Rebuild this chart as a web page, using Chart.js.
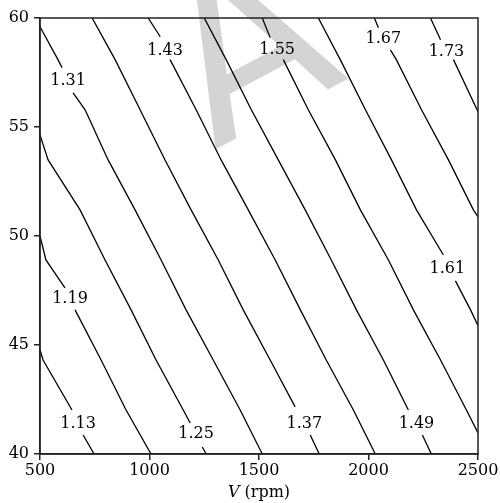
<!DOCTYPE html>
<html>
<head>
<meta charset="utf-8">
<script src="https://cdn.jsdelivr.net/npm/chart.js@4.4.1/dist/chart.umd.min.js"></script>
<style>
  html, body { margin: 0; padding: 0; background: #fff; }
  #wrap { width: 500px; height: 503px; }
</style>
</head>
<body>
<div id="wrap"><canvas id="contour"></canvas></div>
<script>
// 等高線のレベル
const levels = [1.13, 1.19, 1.25, 1.31, 1.37, 1.43, 1.49, 1.55, 1.61, 1.67, 1.73];

// 各等高線の点 [V, y]  (null = ラベルのすき間)
const line113 = [[500, 44.78], [514, 44.31], [646, 42.02], null, [697, 40.87], [747, 40]];
const line119 = [[500, 50.0], [527, 48.9], [614, 47.62], null, [660, 46.61], [779, 44.31], [893, 42.02], [1007, 40]];
const line125 = [[500, 54.64], [537, 53.49], [683, 51.2], [797, 48.9], [916, 46.61], [1030, 44.31], [1154, 42.02], [1186, 41.42], null, [1241, 40.32], [1259, 40]];
const line131 = [[500, 59.6], [582, 58.09], [601, 57.72], null, [651, 56.57], [706, 55.79], [811, 53.49], [934, 51.2], [1053, 48.9], [1167, 46.61], [1291, 44.31], [1414, 42.02], [1515, 40]];
const line137 = [[738, 60], [843, 58.09], [957, 55.79], [1071, 53.49], [1190, 51.2], [1314, 48.9], [1428, 46.61], [1551, 44.31], [1665, 42.16], null, [1734, 40.87], [1775, 40]];
const line143 = [[994, 60], [1049, 59.14], null, [1094, 58.09], [1213, 55.79], [1327, 53.49], [1451, 51.2], [1574, 48.9], [1689, 46.61], [1807, 44.31], [1931, 42.02], [2031, 40]];
const line149 = [[1250, 60], [1350, 58.09], [1465, 55.79], [1588, 53.49], [1711, 51.2], [1830, 48.9], [1945, 46.61], [2068, 44.31], [2182, 42.02], null, [2246, 40.87], [2287, 40]];
const line155 = [[1515, 60], [1551, 59.1], null, [1611, 58.09], [1725, 55.79], [1849, 53.49], [1963, 51.2], [2091, 48.9], [2205, 46.61], [2329, 44.31], [2447, 42.02], [2500, 40.96]];
const line161 = [[1771, 60], [1871, 58.09], [1986, 55.79], [2105, 53.49], [2219, 51.2], [2342, 49.13], null, [2397, 47.94], [2466, 46.61], [2500, 45.88]];
const line167 = [[2027, 60], [2045, 59.55], null, [2100, 58.54], [2127, 58.09], [2242, 55.79], [2365, 53.49], [2479, 51.2], [2500, 50.88]];
const line173 = [[2283, 60], [2329, 59.0], null, [2388, 58.09], [2500, 55.7]];

const contours = [line113, line119, line125, line131, line137, line143, line149, line155, line161, line167, line173];

// ラベルの位置
const labelV = [674, 637, 1213, 628, 1707, 1071, 2219, 1583, 2360, 2068, 2356];
const labelY = [41.37, 47.11, 40.92, 57.12, 41.37, 58.5, 41.37, 58.54, 48.49, 59.05, 58.45];

// 目盛り
const xTicks = [500, 1000, 1500, 2000, 2500];
const yTicks = [40, 45, 50, 55, 60];

const AXIS = '#222';
const FONT = '"DejaVu Serif", serif';

const datasets = contours.map((pts, i) => ({
    label: levels[i].toFixed(2),
    data: pts.map((p, j) => p ? { x: p[0], y: p[1] } : { x: pts[j - 1][0], y: null }),
    borderColor: '#000',
    borderWidth: 1.3,
    pointRadius: 0,
    tension: 0,
    spanGaps: false,
    fill: false
}));

// 透かし・枠・ラベル・軸タイトル
const decor = {
    id: 'decor',
    beforeDraw(chart) {
        const ctx = chart.ctx;
        ctx.save();
        ctx.translate(214, 150);
        ctx.rotate(-28 * Math.PI / 180);
        ctx.font = '225px "DejaVu Sans"';
        ctx.fillStyle = '#d4d4d4';
        ctx.textAlign = 'left';
        ctx.textBaseline = 'alphabetic';
        ctx.fillText('A', 0, 0);
        ctx.restore();
    },
    afterDraw(chart) {
        const ctx = chart.ctx;
        const a = chart.chartArea;
        const xs = chart.scales.x, ys = chart.scales.y;
        ctx.save();
        ctx.strokeStyle = AXIS;
        ctx.lineWidth = 1.5;
        ctx.strokeRect(a.left, a.top, a.right - a.left, a.bottom - a.top);

        ctx.font = '16px ' + FONT;
        ctx.textAlign = 'center';
        ctx.textBaseline = 'middle';
        ctx.fillStyle = '#000';
        levels.forEach((lv, i) => {
            ctx.fillText(lv.toFixed(2), xs.getPixelForValue(labelV[i]), ys.getPixelForValue(labelY[i]));
        });

        // 軸タイトル V (rpm)
        const italic = 'italic 16px ' + FONT;
        const normal = '16px ' + FONT;
        ctx.font = italic;
        const w1 = ctx.measureText('V').width;
        ctx.font = normal;
        const w2 = ctx.measureText(' (rpm)').width;
        const cx = (a.left + a.right) / 2;
        let x0 = cx - (w1 + w2) / 2;
        ctx.textAlign = 'left';
        ctx.textBaseline = 'alphabetic';
        ctx.font = italic;
        ctx.fillText('V', x0, 497);
        ctx.font = normal;
        ctx.fillText(' (rpm)', x0 + w1, 497);
        ctx.restore();
    }
};

new Chart(document.getElementById('contour'), {
    type: 'line',
    data: { datasets: datasets },
    options: {
        responsive: true,
        maintainAspectRatio: false,
        animation: false,
        layout: { padding: { top: 18, right: 22, left: 0, bottom: 0 } },
        plugins: {
            legend: { display: false },
            tooltip: { enabled: false }
        },
        scales: {
            x: {
                type: 'linear',
                min: 500,
                max: 2500,
                afterBuildTicks: s => { s.ticks = xTicks.map(v => ({ value: v })); },
                afterFit: s => { s.height = 49; },
                grid: { drawOnChartArea: false, tickLength: 6, color: AXIS, lineWidth: 1.5 },
                border: { display: true, color: AXIS, width: 1.5 },
                ticks: {
                    color: '#000',
                    padding: 1,
                    maxRotation: 0,
                    font: { family: FONT, size: 16 },
                    callback: v => String(v)
                }
            },
            y: {
                type: 'linear',
                min: 40,
                max: 60,
                afterBuildTicks: s => { s.ticks = yTicks.map(v => ({ value: v })); },
                afterFit: s => { s.width = 40; },
                grid: { drawOnChartArea: false, tickLength: 6, color: AXIS, lineWidth: 1.5 },
                border: { display: true, color: AXIS, width: 1.5 },
                ticks: {
                    color: '#000',
                    padding: 5,
                    font: { family: FONT, size: 16 },
                    callback: v => String(v)
                }
            }
        }
    },
    plugins: [decor]
});
</script>
</body>
</html>
